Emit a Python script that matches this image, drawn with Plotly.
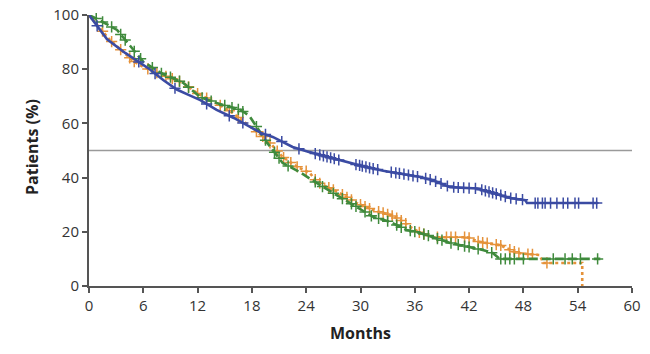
import numpy as np
import plotly.graph_objects as go

# ---- data ----
blue_t = [0, 0.9, 2, 4, 6.7, 8.2, 9.7, 11, 12.3, 14.1, 16, 17.8, 19, 20.3, 22.5, 24.4, 26.5, 28.8,
          30.5, 32.5, 34.4, 36.6, 38, 39.9, 42.9, 45.4, 46.5, 48.2, 48.4, 56.2]
blue_s = [100, 96, 91, 86, 80, 76, 72.5, 70.5, 68.6, 65, 62, 58.7, 56.5, 55, 51.3, 49.4, 47.5, 45.4,
          44, 42.5, 41.5, 40.2, 39, 36.5, 36, 33.6, 32.5, 31.7, 30.6, 30.6]
blue_censor = [0.9, 5.5, 7.3, 9.5, 13, 15.5, 17, 19.5, 21.3, 23.2, 25, 25.5, 25.9, 26.3, 26.7,
               27.1, 27.6, 29.5, 29.9, 30.2, 30.6, 31, 31.4, 31.9, 33.4, 33.9, 34.3, 34.8, 35.3,
               35.8, 36.3, 37.2, 37.7, 38.3, 38.9, 39.6, 40.3, 40.8, 41.4, 42, 42.7, 43.4, 43.8,
               44.2, 44.6, 45, 45.5, 46, 46.6, 47.2, 47.9, 49.3, 49.6, 50.1, 50.4, 51, 51.7, 52.4,
               52.9, 53.7, 54.1, 55.7, 56.1]

orange_t = [0, 1, 2.3, 4.9, 6, 8, 10.4, 12, 14.1, 15.9, 17.8, 19.7, 21.4, 23, 24.4, 25.2, 27.7,
            29.6, 31.4, 33.3, 34.4, 35.5, 36.6, 38, 41.8, 43.2, 45.4, 47.3, 49.8, 50.2, 54.5, 54.5]
orange_s = [100, 96, 90.8, 83, 80.8, 78, 75, 71, 67.5, 63.8, 58.7, 53.9, 47.6, 44, 41.7, 38.4,
            34.3, 30.6, 28, 26.2, 24.4, 21.8, 19.6, 18, 18, 16.2, 15.1, 12.2, 11.4, 8.5, 8.5, 0]
orange_censor = [1.5, 2.5, 3.5, 4.5, 5, 6.5, 7.5, 8.5, 9.2, 10, 11, 12, 13, 14.5, 15.5, 16.5,
                 18.5, 19.2, 20, 20.8, 21.5, 22.3, 23, 24, 25, 25.5, 26.5, 27, 28, 28.5, 29, 30,
                 30.5, 31, 32, 32.5, 33, 33.5, 34, 34.5, 35, 36.5, 37, 38.5, 39.5, 40, 40.5, 41.5,
                 42, 43, 43.5, 44, 45, 45.5, 46.5, 47, 47.5, 48.5, 49, 50.6]

green_t = [0, 1.2, 3.1, 4.9, 6, 8, 10.4, 12.3, 14.1, 16.7, 17.2, 17.8, 19.7, 21.4, 23.3, 25.5,
           27.7, 29.6, 31.4, 33.3, 35.1, 36.6, 39.9, 43.5, 44.6, 45.4, 56.5]
green_s = [100, 98, 94.5, 87, 82.7, 78.5, 75, 69.7, 67.5, 65, 64, 62.4, 52.8, 45.4, 42, 37.3,
           32.8, 29.2, 25.5, 23.6, 20.7, 19.6, 15.9, 13.3, 12.2, 10, 10]
green_censor = [0.8, 1.5, 2.5, 3.5, 4, 5, 5.7, 7, 8, 9, 10, 11, 12.5, 13.5, 15, 15.8, 16.5, 17,
                18.5, 19.5, 20.5, 21, 22, 25, 25.8, 27, 28, 29, 29.5, 30.5, 31.2, 32, 33, 34,
                34.5, 35.5, 36, 37, 37.5, 38.5, 39, 40, 40.8, 41.5, 42, 43, 44.5, 45.5, 46, 46.5,
                47, 48, 51.3, 52.6, 53.4, 54.3, 56.2]

x_ticks = [0, 6, 12, 18, 24, 30, 36, 42, 48, 54, 60]
y_ticks = [0, 20, 40, 60, 80, 100]
median_line = 50

BLUE = "#3b4ba3"
ORANGE = "#e5923a"
GREEN = "#3f8a3c"
FONT = "Open Sans"

fig = go.Figure()

series = [
    (orange_t, orange_s, orange_censor, ORANGE, "dot"),
    (green_t, green_s, green_censor, GREEN, "9px,4px"),
    (blue_t, blue_s, blue_censor, BLUE, "solid"),
]

for t, s, c, col, dash in series:
    fig.add_trace(go.Scatter(x=t, y=s, mode="lines",
                             line=dict(color=col, width=2.6, dash=dash),
                             cliponaxis=False, showlegend=False, hoverinfo="skip"))
    # censor marks: y taken from the curve itself
    ys = np.interp(c, t, s)
    fig.add_trace(go.Scatter(x=c, y=ys, mode="markers",
                             marker=dict(symbol="cross-thin", size=8,
                                         line=dict(color=col, width=1.5)),
                             cliponaxis=False, showlegend=False, hoverinfo="skip"))

fig.add_shape(type="line", x0=0, x1=60, y0=median_line, y1=median_line,
              xref="x", yref="y", line=dict(color="#9a9a9a", width=1.5), layer="below")

axis_common = dict(showgrid=False, zeroline=False, showline=True, linecolor="#555555",
                   linewidth=2, ticks="outside", ticklen=5, tickwidth=1.5, automargin=False,
                   tickcolor="#555555", tickfont=dict(family=FONT, size=15, color="#333333"))

fig.update_xaxes(range=[0, 60], tickvals=x_ticks, ticktext=[str(v) for v in x_ticks],
                 **axis_common)
fig.update_yaxes(range=[0, 100], tickvals=y_ticks, ticktext=[str(v) for v in y_ticks],
                 **axis_common)

fig.add_annotation(text="<b>Months</b>", x=0.5, y=-(333 - 286) / (286 - 15),
                   xref="paper", yref="paper", showarrow=False, yanchor="middle",
                   font=dict(family=FONT, size=16, color="#222222"))
fig.add_annotation(text="<b>Patients (%)</b>", x=-(89 - 32) / (632 - 89), y=(286 - 147) / (286 - 15),
                   xref="paper", yref="paper", textangle=-90, showarrow=False,
                   xanchor="center", yanchor="middle",
                   font=dict(family=FONT, size=16, color="#222222"))

fig.update_layout(width=650, height=354, margin=dict(l=89, r=18, t=15, b=68),
                  plot_bgcolor="white", paper_bgcolor="white",
                  font=dict(family=FONT))

fig.write_html("out.html")
